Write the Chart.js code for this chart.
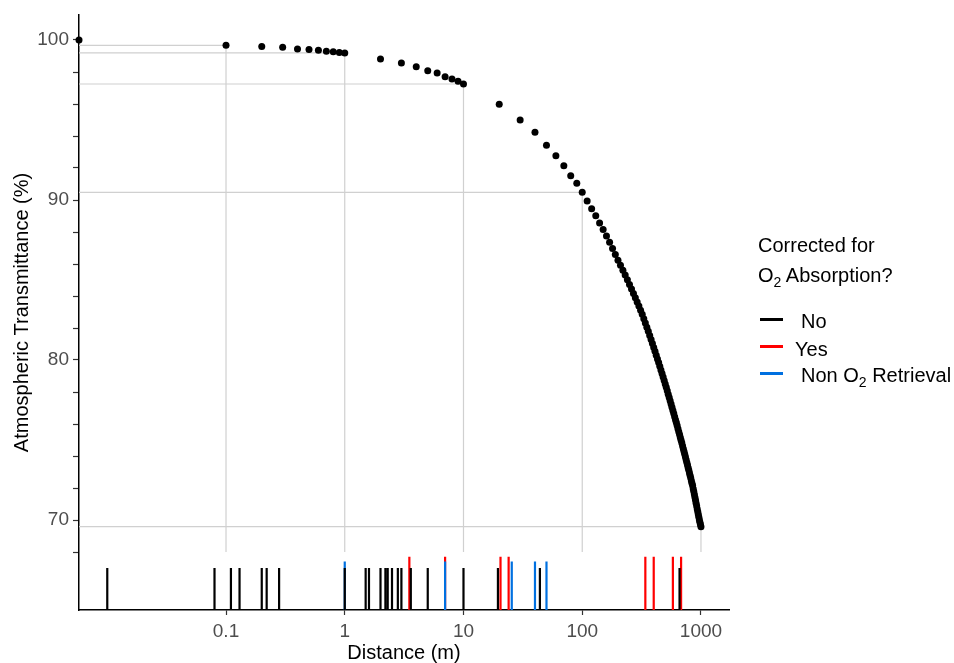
<!DOCTYPE html>
<html lang="en">
<head>
<meta charset="UTF-8">
<script src="https://cdn.jsdelivr.net/npm/chart.js"></script>
<title>Atmospheric Transmittance vs Distance</title>
<style>
  body { margin: 0; background: #fff; }
  #wrap { position: relative; width: 954px; height: 663px; font-family: "Liberation Sans", Arial, sans-serif; }
  .lg { position: absolute; font-size: 20px; line-height: 20px; color: #000; white-space: nowrap; }
  .key { position: absolute; left: 760px; width: 23px; height: 3px; }
  .sub { font-size: 14px; position: relative; top: 5px; }
</style>
</head>
<body>
<div id="wrap">
  <canvas id="myChart" width="954" height="663"></canvas>
  <div class="lg" style="left:758px; top:235px;">Corrected for</div>
  <div class="lg" style="left:758px; top:265px;">O<span class="sub">2</span> Absorption?</div>
  <div class="key" style="top:318px; background:#000;"></div>
  <div class="lg" style="left:801px; top:311px;">No</div>
  <div class="key" style="top:345px; background:#ff0000;"></div>
  <div class="lg" style="left:795px; top:339px;">Yes</div>
  <div class="key" style="top:372px; background:#0070e0;"></div>
  <div class="lg" style="left:801px; top:365px;">Non O<span class="sub">2</span> Retrieval</div>
</div>
<script>
// distance (m) and transmittance (%); 0 m is drawn at the left edge
const dist = [
  0, 0.1, 0.2, 0.3, 0.4, 0.5, 0.6, 0.7, 0.8, 0.9, 1,
  2, 3, 4, 5, 6, 7, 8, 9, 10,
  20, 30, 40, 50, 60, 70, 80, 90, 100,
  110, 120, 130, 140, 150, 160, 170, 180, 190, 200,
  210, 220, 230, 240, 250, 260, 270, 280, 290, 300,
  310, 320, 330, 340, 350, 360, 370, 380, 390, 400,
  410, 420, 430, 440, 450, 460, 470, 480, 490, 500,
  510, 520, 530, 540, 550, 560, 570, 580, 590, 600,
  610, 620, 630, 640, 650, 660, 670, 680, 690, 700,
  710, 720, 730, 740, 750, 760, 770, 780, 790, 800,
  810, 820, 830, 840, 850, 860, 870, 880, 890, 900,
  910, 920, 930, 940, 950, 960, 970, 980, 990, 1000
];
const trans = [
  100, 99.67, 99.6, 99.54, 99.44, 99.41, 99.36, 99.29, 99.27, 99.22, 99.19,
  98.81, 98.56, 98.33, 98.08, 97.94, 97.71, 97.56, 97.42, 97.25,
  95.98, 95.0, 94.23, 93.42, 92.77, 92.14, 91.52, 91.04, 90.48,
  89.93, 89.46, 89.01, 88.57, 88.15, 87.75, 87.36, 86.97, 86.60, 86.24,
  85.92, 85.61, 85.31, 85.01, 84.72, 84.44, 84.16, 83.89, 83.63, 83.37,
  83.11, 82.86, 82.58, 82.31, 82.05, 81.79, 81.53, 81.28, 81.03, 80.78,
  80.54, 80.30, 80.07, 79.84, 79.61, 79.38, 79.16, 78.94, 78.72, 78.50,
  78.29, 78.08, 77.86, 77.66, 77.46, 77.25, 77.05, 76.85, 76.66, 76.46,
  76.27, 76.09, 75.90, 75.71, 75.52, 75.34, 75.16, 74.98, 74.81, 74.63,
  74.45, 74.28, 74.11, 73.94, 73.77, 73.60, 73.44, 73.27, 73.11, 72.94,
  72.78, 72.62, 72.46, 72.30, 72.15, 71.96, 71.78, 71.59, 71.41, 71.23,
  71.05, 70.87, 70.69, 70.52, 70.34, 70.17, 70.00, 69.86, 69.72, 69.58
];

// distances of the studies (rug marks), by group
const rugNo = [0.01, 0.08, 0.11, 0.13, 0.2, 0.22, 0.28, 1, 1.5, 1.6, 2, 2.2, 2.3, 2.5, 2.8, 3, 3.6, 5, 10, 19.5, 44, 660];
const rugYes = [3.5, 7, 20.5, 24, 340, 400, 580, 680];
const rugNonO2 = [1, 7, 25.5, 40, 50];

// reference distances with drop lines
const refDist = [0.1, 1, 10, 100, 1000];

const xTickVals = [0.1, 1, 10, 100, 1000];
const xTickLabels = ['0.1', '1', '10', '100', '1000'];
const yTickVals = [68, 70, 72, 74, 76, 78, 80, 82, 84, 86, 88, 90, 92, 94, 96, 98, 100];

// axis limits
const X_MIN = 0.00578, X_MAX = 1722;
const Y_MIN = 64.375, Y_MAX = 101.5625;
const GRID_FLOOR = 68;
const RUG_TOP_NO = 67.0, RUG_TOP_NON = 67.4, RUG_TOP_YES = 67.7;

function segments(list) {
  const pts = [];
  list.forEach(s => {
    pts.push({x: s[0], y: s[1]}, {x: s[2], y: s[3]}, {x: s[2], y: null});
  });
  return pts;
}

function rug(values, top) {
  return segments(values.map(v => [v, Y_MIN, v, top]));
}

const refLines = [];
refDist.forEach(d => {
  const t = trans[dist.indexOf(d)];
  refLines.push([X_MIN, t, d, t]);
  refLines.push([d, GRID_FLOOR, d, t]);
});

const lineStyle = { type: 'line', pointRadius: 0, spanGaps: false, fill: false, tension: 0 };

Chart.defaults.font.family = '"Liberation Sans", Arial, sans-serif';

const config = {
  type: 'scatter',
  data: {
    datasets: [
      // first dataset is drawn on top
      { ...lineStyle, label: 'No', data: rug(rugNo, RUG_TOP_NO), borderColor: '#000000', borderWidth: 2.2 },
      { ...lineStyle, label: 'Non O2 Retrieval', data: rug(rugNonO2, RUG_TOP_NON), borderColor: '#0070e0', borderWidth: 2.2 },
      { ...lineStyle, label: 'Yes', data: rug(rugYes, RUG_TOP_YES), borderColor: '#ff0000', borderWidth: 2.2 },
      {
        label: 'Transmittance',
        data: dist.map((d, i) => ({x: d > 0 ? d : X_MIN, y: trans[i]})),
        backgroundColor: '#000',
        borderWidth: 0,
        pointRadius: 3.5,
        clip: false
      },
      { ...lineStyle, label: 'ref', data: segments(refLines), borderColor: '#d0d0d0', borderWidth: 1.2 }
    ]
  },
  options: {
    responsive: false,
    animation: false,
    devicePixelRatio: 1,
    layout: { padding: { left: 0, right: 225, top: 15, bottom: 0 } },
    plugins: {
      legend: { display: false },
      tooltip: { enabled: false }
    },
    scales: {
      x: {
        type: 'logarithmic',
        min: X_MIN,
        max: X_MAX,
        afterBuildTicks: (scale) => { scale.ticks = xTickVals.map(v => ({value: v})); },
        afterFit: (scale) => { scale.height = 53; scale.paddingLeft = 0; scale.paddingRight = 0; },
        ticks: {
          autoSkip: false,
          maxRotation: 0,
          padding: 5,
          color: '#4d4d4d',
          font: { size: 19 },
          callback: (v) => {
            const i = xTickVals.indexOf(v);
            return i >= 0 ? xTickLabels[i] : '';
          }
        },
        grid: { drawOnChartArea: false, drawTicks: true, tickLength: 5, tickColor: '#333', tickWidth: 1.2 },
        border: { color: '#000', width: 1.5 },
        title: {
          display: true,
          text: 'Distance (m)',
          color: '#000',
          font: { size: 20, lineHeight: 1 },
          padding: { top: 0, bottom: 0 }
        }
      },
      y: {
        type: 'linear',
        min: Y_MIN,
        max: Y_MAX,
        afterBuildTicks: (scale) => { scale.ticks = yTickVals.map(v => ({value: v})); },
        afterFit: (scale) => { scale.width = 79; scale.paddingTop = 0; scale.paddingBottom = 0; },
        ticks: {
          autoSkip: false,
          padding: 4,
          color: '#4d4d4d',
          font: { size: 19 },
          callback: (v) => (v % 10 === 0 ? String(v) : '')
        },
        grid: { drawOnChartArea: false, drawTicks: true, tickLength: 6, tickColor: '#333', tickWidth: 1.2 },
        border: { color: '#000', width: 1.5 },
        title: {
          display: true,
          text: 'Atmospheric Transmittance (%)',
          color: '#000',
          font: { size: 20, lineHeight: 1 },
          padding: { top: 12, bottom: 0 }
        }
      }
    }
  }
};

const myChart = new Chart(document.getElementById('myChart'), config);
</script>
</body>
</html>
